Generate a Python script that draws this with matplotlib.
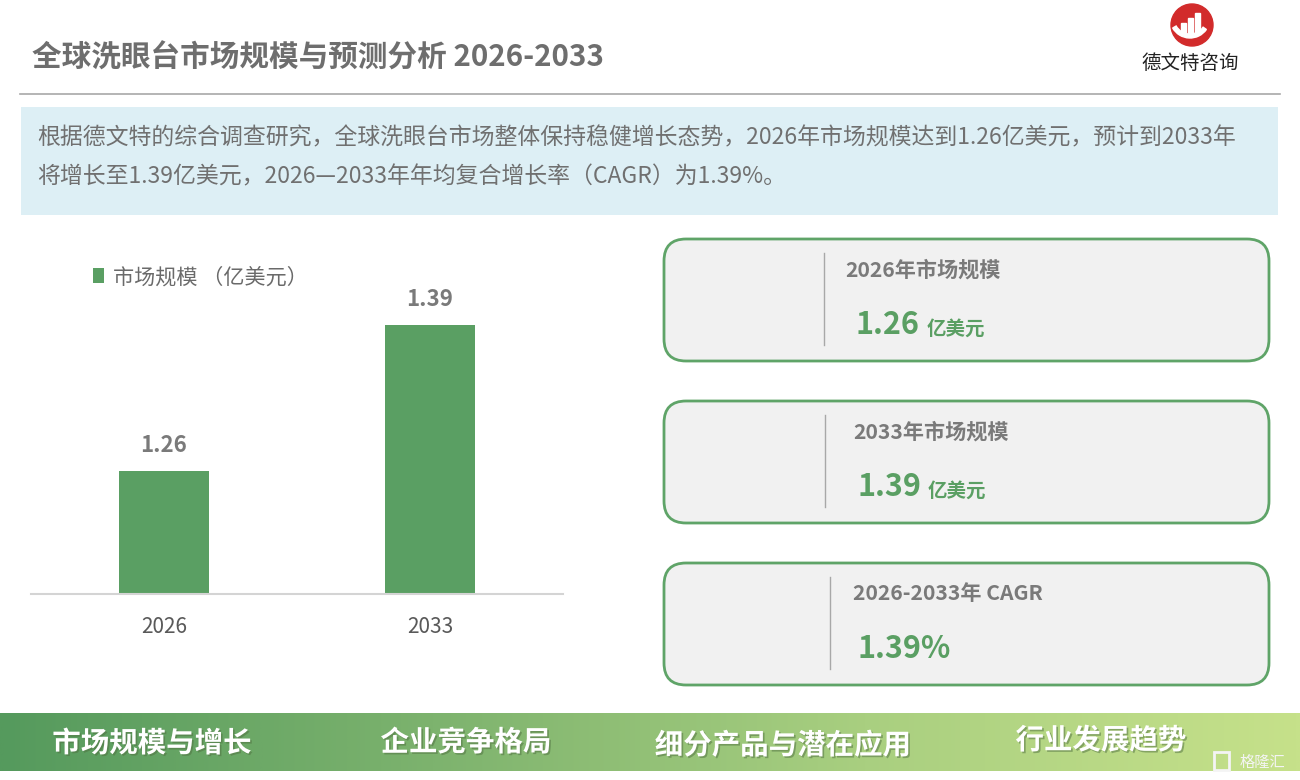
import matplotlib
matplotlib.use("Agg")
import matplotlib.pyplot as plt
import numpy as np
from matplotlib.patches import FancyBboxPatch, Rectangle, Circle, Wedge
from matplotlib.colors import LinearSegmentedColormap
import matplotlib.patheffects as pe

plt.rcParams['font.family'] = ['Noto Sans CJK SC', 'DejaVu Sans']

# ---- data ----
years = ["2026", "2033"]
market_size = [1.26, 1.39]
series_label = "市场规模 （亿美元）"
title = "全球洗眼台市场规模与预测分析 2026-2033"
summary_lines = [
    "根据德文特的综合调查研究，全球洗眼台市场整体保持稳健增长态势，2026年市场规模达到1.26亿美元，预计到2033年",
    "将增长至1.39亿美元，2026—2033年年均复合增长率（CAGR）为1.39%。",
]
card_titles = ["2026年市场规模", "2033年市场规模", "2026-2033年 CAGR"]
card_values = ["1.26", "1.39", "1.39%"]
card_units = ["亿美元", "亿美元", ""]
nav_items = ["市场规模与增长", "企业竞争格局", "细分产品与潜在应用", "行业发展趋势"]

GREEN = "#5A9F63"
GRAY_T = "#707070"

fig = plt.figure(figsize=(13, 7.8), dpi=100)
fig.patch.set_facecolor("white")

# overlay axes in pixel coordinates
ov = fig.add_axes([0, 0, 1, 1])
ov.set_xlim(0, 1300)
ov.set_ylim(780, 0)
ov.axis("off")

# title
ov.text(32, 58, title, fontsize=21.3, fontweight="bold", color="#6E6E6E", va="center", ha="left")
ov.plot([20, 1280], [94, 94], color="#A8A8A8", lw=1.2)

# logo
ov.add_patch(Circle((1192, 25), 21, color="#D22B2B"))
for bx, bh in [(1181, 10), (1188, 15), (1195, 20)]:
    ov.add_patch(Rectangle((bx, 33 - bh), 4.5, bh, color="white"))
ov.add_patch(Wedge((1190, 18), 20, 35, 150, width=4, color="white"))
ov.text(1190, 63, "德文特咨询", fontsize=14, color="#222222", ha="center", va="center")

# summary box
ov.add_patch(Rectangle((21, 107), 1257, 108, color="#DDEFF5", lw=0))
ov.text(37, 138, summary_lines[0], fontsize=16.5, color=GRAY_T, va="center", ha="left")
ov.text(37, 177, summary_lines[1], fontsize=16.5, color=GRAY_T, va="center", ha="left")

# cards
card_tops = [239, 401, 563]
vline_x = [824, 825, 830]
title_x = [845, 853, 853]
value_x = [856, 857, 857]
for i, top in enumerate(card_tops):
    ov.add_patch(FancyBboxPatch((664, top), 605, 122,
                                boxstyle="round,pad=0,rounding_size=22",
                                fc="#F1F1F1", ec="#5FA468", lw=2))
    ov.plot([vline_x[i], vline_x[i]], [top + 14, top + 106], color="#A8A8A8", lw=1)
    ov.text(title_x[i], top + 31, card_titles[i], fontsize=15.2, fontweight="bold",
            color="#7A7A7A", va="center", ha="left")
    ov.text(value_x[i], top + 86, card_values[i], fontsize=22, fontweight="bold",
            color=GREEN, va="center", ha="left")
    if card_units[i]:
        ov.text(value_x[i] + 71, top + 90, card_units[i], fontsize=14, fontweight="bold",
                color=GREEN, va="center", ha="left")

# bottom nav band with gradient
cmap = LinearSegmentedColormap.from_list("band", ["#559A5D", "#7DB36E", "#A9CF80", "#C6E18A"])
grad = np.linspace(0, 1, 512).reshape(1, -1)
ov.imshow(grad, cmap=cmap, extent=[0, 1300, 771, 713], aspect="auto", zorder=1)
ov.set_xlim(0, 1300)
ov.set_ylim(780, 0)
nav_x = [152, 466, 783, 1101]
nav_y = [744, 743, 746, 741]
for x, y, s in zip(nav_x, nav_y, nav_items):
    ov.text(x, y, s, fontsize=20.5, fontweight="bold", color="white", ha="center", va="center",
            zorder=3,
            path_effects=[pe.withSimplePatchShadow(offset=(1.2, -1.2), shadow_rgbFace="#4f6f40", alpha=0.5)])
ov.text(1262, 762, "格隆汇", fontsize=11, color="#F4F4F4", ha="center", va="center", zorder=3)
ov.add_patch(Rectangle((1214, 752), 15, 18, fc="none", ec="#F4F4F4", lw=2, zorder=3))

# bar chart
ax = fig.add_axes([31 / 1300, (780 - 594) / 780, 532 / 1300, 344 / 780])
x = np.arange(len(years))
bars = ax.bar(x, market_size, width=0.335, color=GREEN, label=series_label, zorder=2)
ax.set_xlim(-0.5, 1.5)
ax.set_ylim(1.1505, 1.4568)
ax.set_xticks(x)
ax.set_xticklabels(years, fontsize=15, color="#595959")
ax.tick_params(axis="x", length=0, pad=15.5)
ax.set_yticks([])
for s in ["top", "right", "left"]:
    ax.spines[s].set_visible(False)
ax.spines["bottom"].set_color("#D4D4D4")
ax.spines["bottom"].set_linewidth(1.5)
ax.patch.set_alpha(0)
ax.bar_label(bars, labels=[f"{v:.2f}" for v in market_size], padding=10,
             fontsize=16, fontweight="bold", color="#7A7A7A")
leg = ax.legend(loc="upper left", bbox_to_anchor=(0.08, 1.008), frameon=False,
                handlelength=0.55, handleheight=0.7, handletextpad=0.4,
                prop={"size": 15.2})
for txt in leg.get_texts():
    txt.set_color("#6A6A6A")

fig.savefig("out.png", dpi=100, facecolor="white")
